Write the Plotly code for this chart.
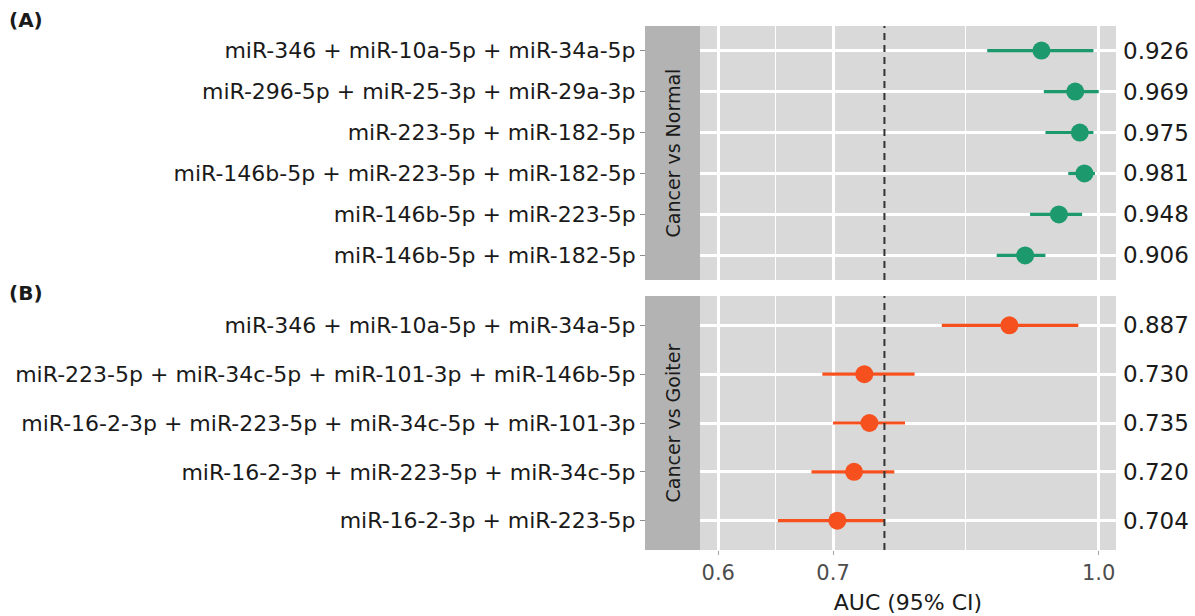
import plotly.graph_objects as go

# ---- data -------------------------------------------------------------
# (A) Cancer vs Normal
combos_a = [
    "miR-346 + miR-10a-5p + miR-34a-5p",
    "miR-296-5p + miR-25-3p + miR-29a-3p",
    "miR-223-5p + miR-182-5p",
    "miR-146b-5p + miR-223-5p + miR-182-5p",
    "miR-146b-5p + miR-223-5p",
    "miR-146b-5p + miR-182-5p",
]
auc_a = [0.926, 0.969, 0.975, 0.981, 0.948, 0.906]
lo_a = [0.861, 0.929, 0.931, 0.960, 0.912, 0.872]
hi_a = [0.993, 1.000, 0.993, 0.995, 0.978, 0.931]

# (B) Cancer vs Goiter
combos_b = [
    "miR-346 + miR-10a-5p + miR-34a-5p",
    "miR-223-5p + miR-34c-5p + miR-101-3p + miR-146b-5p",
    "miR-16-2-3p + miR-223-5p + miR-34c-5p + miR-101-3p",
    "miR-16-2-3p + miR-223-5p + miR-34c-5p",
    "miR-16-2-3p + miR-223-5p",
]
auc_b = [0.887, 0.730, 0.735, 0.720, 0.704]
lo_b = [0.810, 0.690, 0.700, 0.680, 0.650]
hi_b = [0.973, 0.781, 0.771, 0.760, 0.750]

strip_a = "Cancer vs Normal"
strip_b = "Cancer vs Goiter"
x_ticks = [0.6, 0.7, 1.0]
x_tick_text = ["0.6", "0.7", "1.0"]
ref_auc = 0.75
x_title = "AUC (95% CI)"

# ---- styling ----------------------------------------------------------
W, H = 1195, 616
FONT = "DejaVu Sans"
GREEN = "#1C9A6E"
ORANGE = "#F6501F"
PANEL_BG = "#D9D9D9"
STRIP_BG = "#B3B3B3"
TXT = "#1A1A1A"

def fx(px):
    return px / W

def fy(px):
    return 1 - px / H

panel_x = [fx(700), fx(1116)]
strip_x0, strip_x1 = fx(645), fx(700)
dom_a = [fy(280), fy(26)]
dom_b = [fy(550), fy(296)]

# minor grid lines sit halfway between major breaks on the log scale
x_minor = [(x_ticks[i] * x_ticks[i + 1]) ** 0.5 for i in range(len(x_ticks) - 1)]

fig = go.Figure()


def add_panel(combos, auc, lo, hi, color, xa, ya):
    fig.add_trace(go.Scatter(
        x=auc, y=combos, xaxis=xa, yaxis=ya, mode="markers",
        marker=dict(color=color, size=18, line=dict(width=0)),
        error_x=dict(type="data", symmetric=False,
                     array=[h - a for h, a in zip(hi, auc)],
                     arrayminus=[a - l for a, l in zip(auc, lo)],
                     color=color, thickness=3.2, width=0),
        showlegend=False, hoverinfo="x+y",
    ))


add_panel(combos_a, auc_a, lo_a, hi_a, GREEN, "x2", "y2")
add_panel(combos_b, auc_b, lo_b, hi_b, ORANGE, "x", "y")

x_common = dict(
    type="log", range=[-0.2325, 0.0101], domain=panel_x,
    tickvals=x_ticks, ticktext=x_tick_text,
    showgrid=True, gridcolor="white", gridwidth=2.6,
    minor=dict(tickvals=x_minor, showgrid=True, gridcolor="white", gridwidth=1.3,
               ticks=""),
    zeroline=False, showline=False,
)

y_common = dict(
    type="category", anchor="free", position=strip_x0,
    showgrid=True, gridcolor="white", gridwidth=2.6,
    ticks="outside", ticklen=5, tickwidth=1.2, tickcolor="#8C8C8C",
    tickfont=dict(family=FONT, size=22, color=TXT),
    zeroline=False, showline=False,
)

fig.update_layout(
    width=W, height=H,
    margin=dict(l=0, r=0, t=0, b=0),
    paper_bgcolor="white", plot_bgcolor=PANEL_BG,
    font=dict(family=FONT, color=TXT),
    xaxis=dict(**x_common, anchor="y", ticks="outside", ticklen=4,
               tickcolor="#A6A6A6", tickwidth=1.2,
               tickfont=dict(family=FONT, size=21, color="#4D4D4D"),
               title=dict(text=x_title, font=dict(family=FONT, size=22, color=TXT),
                          standoff=10)),
    xaxis2=dict(**x_common, anchor="y2", matches="x", showticklabels=False, ticks=""),
    yaxis=dict(**y_common, domain=dom_b, categoryorder="array",
               categoryarray=combos_b, range=[len(combos_b) - 0.4, -0.6]),
    yaxis2=dict(**y_common, domain=dom_a, categoryorder="array",
                categoryarray=combos_a, range=[len(combos_a) - 0.4, -0.6]),
)

shapes = []
annotations = []
for dom, ya, label in [(dom_a, "y2", strip_a), (dom_b, "y", strip_b)]:
    # facet strip on the left of each panel
    shapes.append(dict(type="rect", xref="paper", yref="paper",
                       x0=strip_x0, x1=strip_x1, y0=dom[0], y1=dom[1],
                       fillcolor=STRIP_BG, line=dict(width=0), layer="below"))
    annotations.append(dict(text=label, xref="paper", yref="paper",
                            x=(strip_x0 + strip_x1) / 2, y=(dom[0] + dom[1]) / 2,
                            xanchor="center", yanchor="middle",
                            textangle=-90, showarrow=False,
                            font=dict(family=FONT, size=19, color=TXT)))
    # reference AUC line
    xa = "x2" if ya == "y2" else "x"
    shapes.append(dict(type="line", xref=xa, yref=f"{ya} domain",
                       x0=ref_auc, x1=ref_auc, y0=0, y1=1,
                       line=dict(color="#333333", width=2, dash="7px,5px"),
                       layer="above"))

# AUC values printed to the right of each panel
for combos, auc, ya in [(combos_a, auc_a, "y2"), (combos_b, auc_b, "y")]:
    for i, v in enumerate(auc):
        annotations.append(dict(text=f"{v:.3f}", xref="paper", yref=ya,
                                x=fx(1121), y=i, xanchor="left", yanchor="middle",
                                showarrow=False,
                                font=dict(family=FONT, size=23, color=TXT)))

# panel tags
annotations.append(dict(text="<b>(A)</b>", xref="paper", yref="paper",
                        x=fx(7), y=fy(20), xanchor="left", yanchor="middle",
                        showarrow=False, font=dict(family=FONT, size=20, color=TXT)))
annotations.append(dict(text="<b>(B)</b>", xref="paper", yref="paper",
                        x=fx(7), y=fy(293), xanchor="left", yanchor="middle",
                        showarrow=False, font=dict(family=FONT, size=20, color=TXT)))

fig.update_layout(shapes=shapes, annotations=annotations)
fig.write_html("out.html")
